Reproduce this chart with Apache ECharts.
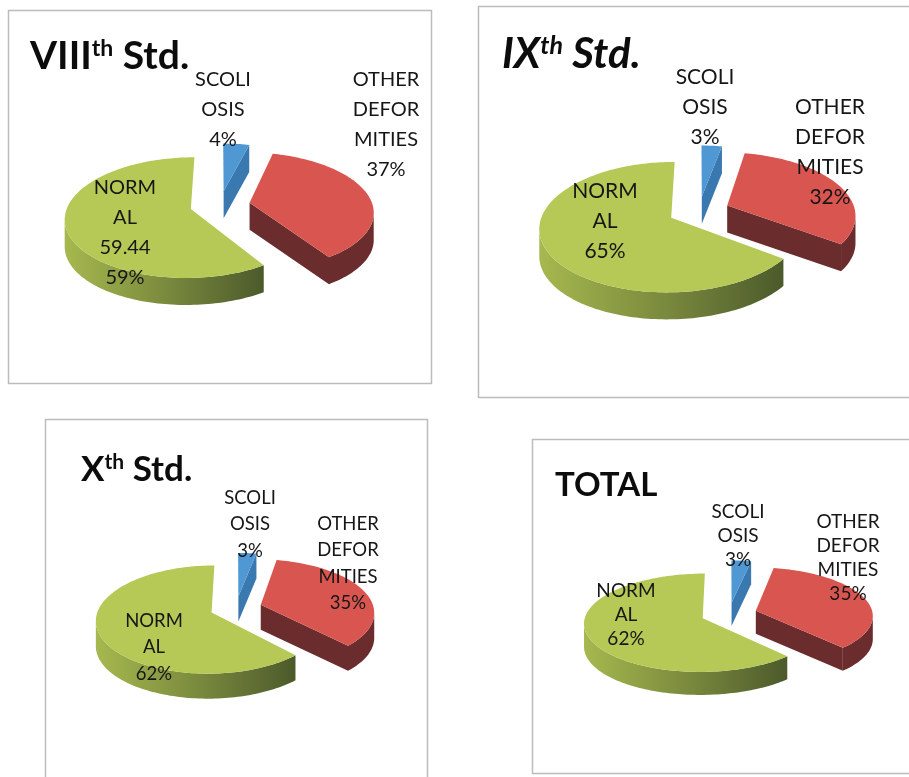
<!DOCTYPE html>
<html>
<head>
<meta charset="utf-8">
<style>html,body{margin:0;padding:0;background:#fff}#chart{width:909px;height:777px}</style>
<script src="https://cdn.jsdelivr.net/npm/echarts@6/dist/echarts.min.js"></script>
</head>
<body>
<div id="chart"></div>
<script>
// Slices run clockwise from twelve o'clock in this order.
const categories = ['SCOLI\nOSIS', 'OTHER\nDEFOR\nMITIES', 'NORM\nAL'];
const std8Values = [4, 37, 59.44];
const std9Values = [3, 32, 65];
const std10Values = [3, 35, 62];
const totalValues = [3, 35, 62];

const FONT = 'Lato, "Open Sans", sans-serif';
const TOP_COLORS = ['#4f98d3', '#d95650', '#b6c855'];
const SIDE_COLORS = ['#3a78b0', '#6a2c2c', {
  type: 'linear', x: 0, y: 0, x2: 1, y2: 0,
  colorStops: [
    { offset: 0, color: '#a6b84e' },
    { offset: 0.5, color: '#7b8b3e' },
    { offset: 1, color: '#4c5a2b' }
  ]
}];

// Frame, tilted-disc projection and text placement of each small chart.
const panels = [
  { values: std8Values, box: [8, 10, 423, 373],
    cx: 220, cy: 205, a: 123, b: 58, p: 0.14, e: 0.245, depth: 27,
    font: 20, lh: 30,
    labels: [[223, 80], [386, 80], [125, 188]],
    title: { left: 30, top: 37, size: 39, italic: false, parts: ['VIII', 'th', ' Std.'] } },
  { values: std9Values, box: [478, 6, 445, 391],
    cx: 699, cy: 211, a: 128, b: 62, p: 0.14, e: 0.24, depth: 27,
    font: 21, lh: 30,
    labels: [[705, 77], [830, 107], [605, 191]],
    title: { left: 502, top: 33, size: 42, italic: true, parts: ['IX', 'th', ' Std.'] } },
  { values: std10Values, box: [45, 419, 382, 375],
    cx: 236, cy: 608, a: 113, b: 52, p: 0.13, e: 0.23, depth: 25,
    font: 18.5, lh: 26.5,
    labels: [[250, 498], [348, 524], [154, 621]],
    title: { left: 81, top: 452, size: 35, italic: false, parts: ['X', 'th', ' Std.'] } },
  { values: totalValues, box: [532, 439, 395, 334],
    cx: 729, cy: 614, a: 117, b: 48, p: 0.09, e: 0.24, depth: 23,
    font: 19, lh: 24,
    labels: [[738, 512], [848, 522], [626, 591]],
    title: { left: 555, top: 469, size: 33, italic: false, parts: ['TOTAL'] } }
];

// Projects a point of the disc plane (X right, Y away from the viewer) to the page.
function project(panel, X, Y, drop) {
  const s = 1 / (1 + panel.p * Y);
  return [panel.cx + panel.a * X * s, panel.cy - panel.b * Y * s + drop];
}

function polygon(points, fill, z2) {
  return { type: 'polygon', shape: { points }, style: { fill }, z2, silent: true };
}

function labelText(values, index) {
  const sum = values.reduce((t, v) => t + v, 0);
  const v = values[index];
  const raw = Number.isInteger(v) ? '' : v + '\n';
  return categories[index] + '\n' + raw + Math.round(v / sum * 100) + '%';
}

function renderSlice(panel, params, api) {
  const i = params.dataIndex;
  const sum = panel.values.reduce((t, v) => t + v, 0);
  const before = panel.values.slice(0, i).reduce((t, v) => t + v, 0);
  const from = before / sum * Math.PI * 2;
  const to = (before + api.value(0)) / sum * Math.PI * 2;
  const mid = (from + to) / 2;
  const ox = panel.e * Math.sin(mid);
  const oy = panel.e * Math.cos(mid);

  const steps = Math.max(4, Math.ceil((to - from) * 40));
  const rim = [];
  for (let k = 0; k <= steps; k++) {
    const t = from + (to - from) * k / steps;
    rim.push([ox + Math.sin(t), oy + Math.cos(t)]);
  }
  const apex = [ox, oy];
  const top = (q) => project(panel, q[0], q[1], 0);
  const low = (q) => project(panel, q[0], q[1], panel.depth);

  const children = [];
  // Straight cut faces that clearly look towards the viewer; near edge-on ones are skipped.
  [[apex, rim[0]], [rim[steps], apex]].forEach(([m, n]) => {
    if (top(n)[0] < top(m)[0] - 6) {
      children.push(polygon([top(m), top(n), low(n), low(m)],
        i === 2 ? '#4c5a2b' : SIDE_COLORS[i], 1));
    }
  });
  // Outer wall: the run of the rim whose screen direction heads left.
  const front = rim.filter((q, k) => {
    const prev = rim[Math.max(0, k - 1)];
    const next = rim[Math.min(steps, k + 1)];
    return top(next)[0] < top(prev)[0];
  });
  if (front.length > 1) {
    const upper = front.map(top);
    const lower = front.map(low).reverse();
    children.push(polygon(upper.concat(lower), SIDE_COLORS[i], 2));
  }
  children.push(polygon([apex].concat(rim).map(top), TOP_COLORS[i], 3));
  const at = panel.labels[i];
  children.push({
    type: 'text', z2: 50, silent: true,
    style: {
      x: at[0], y: at[1] - panel.lh / 2,
      text: labelText(panel.values, i),
      font: panel.font + 'px ' + FONT,
      fill: '#161616', align: 'center', verticalAlign: 'top',
      lineHeight: panel.lh
    }
  });
  return { type: 'group', children };
}

const titles = panels.map((pn) => {
  const t = pn.title;
  const style = t.italic ? 'italic' : 'normal';
  const main = { fontSize: t.size, fontWeight: 'bold', fontStyle: style, fontFamily: FONT, color: '#0c0c0c' };
  const sup = { fontSize: Math.round(t.size * 0.6), fontWeight: 'bold', fontStyle: style, fontFamily: FONT,
    color: '#0c0c0c', verticalAlign: 'top' };
  const text = t.parts.length > 1
    ? '{m|' + t.parts[0] + '}{s|' + t.parts[1] + '}{m|' + t.parts[2] + '}'
    : '{m|' + t.parts[0] + '}';
  return { left: t.left, top: t.top, padding: 0,
    text, textStyle: { rich: { m: main, s: sup } } };
});

const frames = panels.map((pn) => ({
  type: 'rect', silent: true, z: 0,
  shape: { x: pn.box[0] + 0.5, y: pn.box[1] + 0.5, width: pn.box[2], height: pn.box[3] },
  style: { fill: '#fff', stroke: '#bcbcbc', lineWidth: 1.5 }
}));

const chart = echarts.init(document.getElementById('chart'), null, { renderer: 'canvas' });
chart.setOption({
  animation: false,
  backgroundColor: '#ffffff',
  title: titles,
  tooltip: { show: false },
  graphic: frames,
  series: panels.map((pn) => ({
    type: 'custom',
    coordinateSystem: 'none',
    z: 5,
    silent: true,
    data: pn.values,
    renderItem: (params, api) => renderSlice(pn, params, api)
  }))
});
</script>
</body>
</html>
